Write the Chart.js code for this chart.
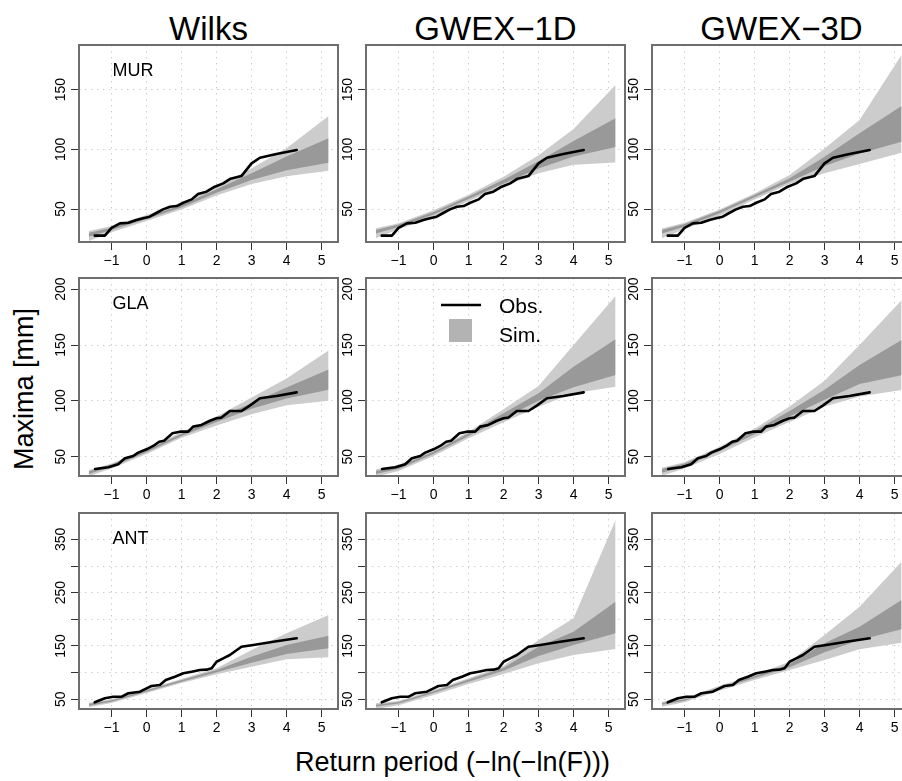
<!DOCTYPE html>
<html lang="en">
<head>
<meta charset="UTF-8">
<title>Maxima vs return period</title>
<script src="https://cdn.jsdelivr.net/npm/chart.js"></script>
<style>
  body { margin: 0; width: 902px; height: 781px; overflow: hidden; background: #fff; position: relative;
         font-family: "Liberation Sans", Arial, sans-serif; }
  canvas { position: absolute; }
  .lbl { position: absolute; white-space: nowrap; line-height: 1; color: #000; }
</style>
</head>
<body>
<div class="lbl" style="left:208.5px; top:12px; font-size:33px; transform:translateX(-50%);">Wilks</div>
<div class="lbl" style="left:495.5px; top:12px; font-size:33px; transform:translateX(-50%);">GWEX−1D</div>
<div class="lbl" style="left:781.5px; top:12px; font-size:33px; transform:translateX(-50%);">GWEX−3D</div>
<div class="lbl" style="left:452.5px; top:748.8px; font-size:27px; transform:translateX(-50%);">Return period (−ln(−ln(F)))</div>
<div class="lbl" style="left:24px; top:389px; font-size:27px; transform:translate(-50%,-50%) rotate(-90deg);">Maxima [mm]</div>

<script>
// x positions (Gumbel reduced variate) where the simulated bands are given
const bandX = [-1.65, -1, 0, 1, 2, 3, 4, 5.2];

// observed annual maxima, one polyline per station
const murObsX = [-1.48, -1.19, -1.0, -0.76, -0.52, -0.29, -0.10, 0.09, 0.29, 0.47, 0.67, 0.86, 1.05, 1.29, 1.47, 1.71, 1.95, 2.19, 2.40, 2.71, 3.00, 3.24, 3.71, 4.29];
const murObsY = [27.7, 27.7, 34.3, 38.0, 38.5, 40.8, 42.2, 43.6, 46.9, 49.7, 51.9, 52.5, 55.3, 58.1, 62.6, 64.5, 68.7, 71.5, 75.4, 77.6, 88.3, 93.0, 96.1, 99.4];
const glaObsX = [-1.47, -1.09, -0.81, -0.62, -0.38, -0.24, 0.0, 0.19, 0.36, 0.50, 0.74, 0.95, 1.19, 1.33, 1.57, 1.81, 2.0, 2.14, 2.38, 2.71, 2.95, 3.24, 3.71, 4.29];
const glaObsY = [39.0, 40.5, 43.2, 48.6, 50.6, 53.6, 56.6, 59.6, 63.4, 64.3, 70.9, 72.4, 72.4, 76.9, 78.4, 82.2, 84.4, 85.0, 90.9, 90.9, 95.7, 102.3, 104.3, 107.6];
const antObsX = [-1.48, -1.19, -0.95, -0.71, -0.52, -0.19, 0.0, 0.14, 0.38, 0.55, 0.81, 1.05, 1.29, 1.52, 1.71, 1.86, 2.0, 2.19, 2.38, 2.71, 3.05, 3.62, 4.29];
const antObsY = [44.4, 51.9, 54.9, 54.9, 61.3, 64.3, 70.6, 75.0, 76.8, 86.2, 92.4, 98.8, 101.8, 105.0, 105.6, 108.2, 120.5, 126.9, 133.1, 148.7, 151.9, 158.1, 164.4];

// simulated bands at bandX: [outer low, inner low, inner high, outer high]
const murWilks = [
  [23.2, 30.5, 39.9, 49.7, 61.4, 70.9, 77.5, 82.1],
  [26.8, 32.4, 41.6, 51.4, 63.7, 74.3, 82.5, 88.8],
  [30.2, 34.3, 43.6, 53.4, 66.5, 79.9, 94.0, 109.2],
  [31.6, 35.8, 45.0, 54.8, 68.7, 84.1, 101.0, 127.9]
];
const murGwex1 = [
  [25.5, 33.0, 43.5, 56.5, 69.0, 80.0, 87.0, 89.0],
  [29.5, 35.0, 45.5, 58.5, 71.5, 84.0, 94.0, 102.0],
  [32.5, 37.0, 47.5, 60.5, 74.5, 90.0, 107.0, 126.0],
  [34.0, 38.0, 49.0, 62.0, 77.0, 95.0, 117.0, 154.0]
];
const murGwex3 = [
  [25.5, 33.2, 44.4, 58.1, 70.9, 79.9, 87.7, 97.2],
  [29.6, 35.2, 46.4, 59.8, 72.9, 86.0, 96.6, 106.4],
  [32.4, 37.4, 48.6, 61.7, 75.7, 93.8, 113.4, 136.3],
  [33.8, 38.5, 49.7, 63.1, 78.5, 100.8, 124.5, 179.0]
];
const glaWilks = [
  [32.5, 39.5, 52.5, 67.0, 78.0, 88.0, 96.0, 100.0],
  [34.5, 41.0, 54.0, 68.5, 81.0, 93.0, 102.0, 110.0],
  [37.0, 43.0, 56.0, 70.5, 84.0, 98.0, 112.0, 128.0],
  [38.0, 44.0, 57.0, 72.0, 86.0, 103.0, 120.0, 145.0]
];
const glaGwex1 = [
  [32.1, 37.2, 50.6, 66.5, 80.8, 94.8, 106.8, 112.7],
  [34.5, 39.0, 52.4, 68.5, 84.4, 100.1, 112.1, 123.1],
  [37.2, 41.1, 54.5, 70.9, 88.9, 106.8, 130.6, 155.1],
  [38.7, 42.6, 56.0, 72.4, 92.4, 113.3, 150.0, 193.9]
];
const glaGwex3 = [
  [33.0, 39.5, 52.5, 67.5, 81.0, 95.0, 104.0, 109.7],
  [35.5, 41.5, 55.0, 70.0, 86.0, 101.0, 115.0, 123.0],
  [39.0, 44.0, 57.5, 73.0, 91.0, 110.0, 132.0, 154.5],
  [40.0, 45.0, 59.0, 75.0, 95.0, 118.0, 150.0, 190.0]
];
const antWilks = [
  [35.0, 43.1, 61.8, 80.6, 96.9, 111.2, 125.0, 128.8],
  [38.0, 45.5, 64.3, 83.0, 100.7, 118.7, 135.0, 145.7],
  [41.7, 48.1, 66.9, 86.2, 105.0, 130.0, 151.9, 169.3],
  [43.6, 50.0, 68.8, 88.1, 108.2, 142.5, 173.8, 208.2]
];
const antGwex1 = [
  [31.8, 38.7, 58.1, 78.7, 97.5, 117.5, 133.1, 144.4],
  [36.3, 41.9, 61.8, 83.0, 103.7, 131.2, 151.9, 173.8],
  [40.0, 45.0, 65.0, 87.0, 109.3, 148.7, 176.8, 233.1],
  [42.5, 46.8, 67.4, 89.4, 113.0, 161.3, 202.0, 386.4]
];
const antGwex3 = [
  [36.1, 44.4, 66.1, 86.2, 105.0, 123.7, 143.8, 156.2],
  [40.0, 47.4, 69.9, 90.0, 110.0, 138.2, 161.3, 181.3],
  [43.1, 50.0, 73.0, 93.1, 115.7, 155.1, 186.2, 236.3],
  [45.5, 51.9, 75.5, 95.6, 120.5, 170.6, 223.7, 308.2]
];

// axis limits and labelled y ticks per row
const xMin = -1.93, xMax = 5.47;
const rowYMin = [22.4, 32.7, 31.8];
const rowYMax = [187.4, 210, 399.5];
const rowYLabels = [[50, 100, 150], [50, 100, 150, 200], [50, 150, 250, 350]];
const stations = ['MUR', 'GLA', 'ANT'];

// layout of the 3x3 grid (plot box corners in page pixels)
const colLeft = [79, 366, 652];
const plotW = 259;
const rowTop = [45, 278, 513];
const plotH = [197, 198, 196];
const PAD_L = 34, PAD_B = 34, PAD_T = 4, PAD_R = 4;

const FONT = '"Liberation Sans", Arial, sans-serif';
const GRID = '#cfcfcf', BOX = '#6e6e6e';
const LIGHT = '#cccccc', DARK = '#999999', LEGEND_SIM = '#b3b3b3';

const panels = [
  { row: 0, col: 0, obs: [murObsX, murObsY], band: murWilks },
  { row: 0, col: 1, obs: [murObsX, murObsY], band: murGwex1 },
  { row: 0, col: 2, obs: [murObsX, murObsY], band: murGwex3 },
  { row: 1, col: 0, obs: [glaObsX, glaObsY], band: glaWilks },
  { row: 1, col: 1, obs: [glaObsX, glaObsY], band: glaGwex1, legend: true },
  { row: 1, col: 2, obs: [glaObsX, glaObsY], band: glaGwex3 },
  { row: 2, col: 0, obs: [antObsX, antObsY], band: antWilks },
  { row: 2, col: 1, obs: [antObsX, antObsY], band: antGwex1 },
  { row: 2, col: 2, obs: [antObsX, antObsY], band: antGwex3 }
];

function pts(xs, ys) {
  return xs.map((x, i) => ({ x: x, y: ys[i] }));
}

function minus(v) {
  return v < 0 ? '\u2212' + Math.abs(v) : String(v);
}

function band(data, color, fill, order) {
  return {
    data: data, fill: fill, order: order,
    backgroundColor: color, borderColor: 'rgba(0,0,0,0)', borderWidth: 0, pointRadius: 0
  };
}

// rotated y labels, station tag, legend and the box around each panel
const panelFrame = {
  id: 'panelFrame',
  afterDraw(chart, args, opts) {
    const ctx = chart.ctx, a = chart.chartArea, y = chart.scales.y;
    ctx.save();
    ctx.fillStyle = '#000';
    ctx.font = '14px ' + FONT;
    ctx.textAlign = 'center';
    ctx.textBaseline = 'alphabetic';
    opts.yLabels.forEach(v => {
      ctx.save();
      ctx.translate(a.left - 14, y.getPixelForValue(v));
      ctx.rotate(-Math.PI / 2);
      ctx.fillText(String(v), 0, 0);
      ctx.restore();
    });

    if (opts.tag) {
      ctx.textAlign = 'left';
      ctx.font = '18px ' + FONT;
      ctx.fillText(opts.tag, a.left + 33.5, a.top + 31);
    }

    if (opts.legend) {
      ctx.strokeStyle = '#000';
      ctx.lineWidth = 2.6;
      ctx.beginPath();
      ctx.moveTo(a.left + 75, a.top + 27);
      ctx.lineTo(a.left + 115, a.top + 27);
      ctx.stroke();
      ctx.fillStyle = LEGEND_SIM;
      ctx.fillRect(a.left + 83, a.top + 41, 23, 23);
      ctx.fillStyle = '#000';
      ctx.textAlign = 'left';
      ctx.font = '21px ' + FONT;
      ctx.fillText('Obs.', a.left + 133, a.top + 35);
      ctx.fillText('Sim.', a.left + 133, a.top + 64);
    }

    ctx.strokeStyle = BOX;
    ctx.lineWidth = 2;
    ctx.strokeRect(a.left, a.top, a.right - a.left, a.bottom - a.top);
    ctx.restore();
  }
};

function gridOpts() {
  return {
    color: GRID, lineWidth: 1, drawTicks: true, tickLength: 8,
    tickColor: '#333', tickWidth: 1, tickBorderDash: []
  };
}

panels.forEach(p => {
  const canvas = document.createElement('canvas');
  canvas.width = PAD_L + plotW + PAD_R;
  canvas.height = PAD_T + plotH[p.row] + PAD_B;
  canvas.style.left = (colLeft[p.col] - PAD_L) + 'px';
  canvas.style.top = (rowTop[p.row] - PAD_T) + 'px';
  document.body.appendChild(canvas);

  const [outLo, inLo, inHi, outHi] = p.band;
  new Chart(canvas, {
    type: 'line',
    data: {
      datasets: [
        band(pts(bandX, outLo), LIGHT, false, 3),
        band(pts(bandX, outHi), LIGHT, '-1', 3),
        band(pts(bandX, inLo), DARK, false, 2),
        band(pts(bandX, inHi), DARK, '-1', 2),
        {
          data: pts(p.obs[0], p.obs[1]), order: 1, fill: false,
          borderColor: '#000', borderWidth: 2.6, pointRadius: 0,
          borderJoinStyle: 'round', borderCapStyle: 'round'
        }
      ]
    },
    options: {
      responsive: false,
      animation: false,
      events: [],
      layout: { padding: { top: PAD_T, right: PAD_R, left: 0, bottom: 0 } },
      elements: { line: { tension: 0 } },
      plugins: {
        legend: { display: false },
        tooltip: { enabled: false },
        panelFrame: {
          yLabels: rowYLabels[p.row],
          tag: p.col === 0 ? stations[p.row] : null,
          legend: !!p.legend
        }
      },
      scales: {
        x: {
          type: 'linear', min: xMin, max: xMax,
          afterFit: s => { s.height = PAD_B; },
          ticks: {
            stepSize: 1, includeBounds: false, autoSkip: false, maxRotation: 0,
            padding: 3, color: '#000', font: { family: FONT, size: 14 },
            callback: v => minus(v)
          },
          grid: gridOpts(),
          border: { display: false, dash: [1.5, 4.5] }
        },
        y: {
          type: 'linear', min: rowYMin[p.row], max: rowYMax[p.row],
          afterFit: s => { s.width = PAD_L; },
          ticks: { stepSize: 50, includeBounds: false, display: false },
          grid: gridOpts(),
          border: { display: false, dash: [1.5, 4.5] }
        }
      }
    },
    plugins: [panelFrame]
  });
});
</script>
</body>
</html>
